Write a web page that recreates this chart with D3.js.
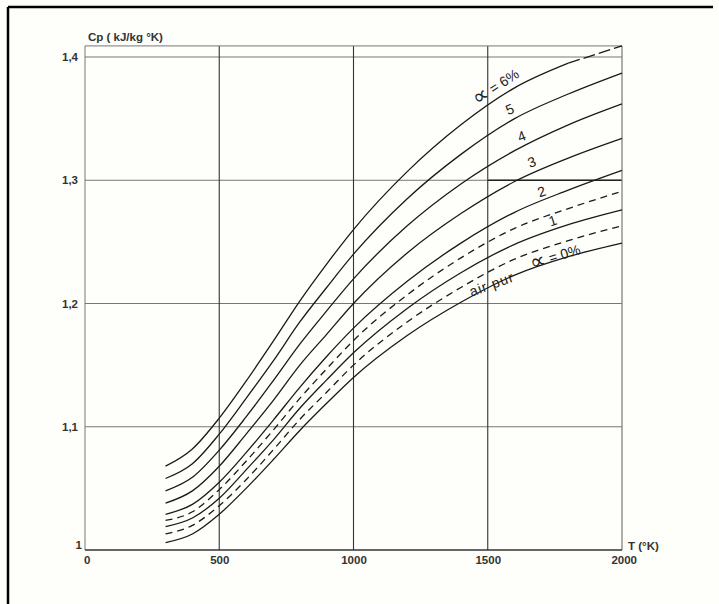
<!DOCTYPE html>
<html>
<head>
<meta charset="utf-8">
<script src="https://cdn.jsdelivr.net/npm/d3@7"></script>
<style>
  html, body { margin: 0; padding: 0; background: #fefefb; }
  svg { display: block; font-family: "Liberation Sans", Arial, sans-serif; }
</style>
</head>
<body>
<svg id="chart" width="719" height="604"></svg>
<script>
// ---- data ----
const temps   = [300, 400, 500, 600, 700, 800, 900, 1000, 1200, 1400, 1600, 1800, 2000];
const alpha0  = [1.006, 1.013, 1.029, 1.050, 1.073, 1.097, 1.119, 1.140, 1.174, 1.201, 1.223, 1.238, 1.249];
const alpha05 = [1.013, 1.020, 1.036, 1.057, 1.081, 1.106, 1.128, 1.150, 1.185, 1.213, 1.236, 1.251, 1.263];
const alpha1  = [1.019, 1.026, 1.042, 1.065, 1.089, 1.115, 1.138, 1.160, 1.196, 1.225, 1.248, 1.264, 1.276];
const alpha15 = [1.024, 1.031, 1.049, 1.072, 1.097, 1.123, 1.147, 1.170, 1.207, 1.237, 1.261, 1.277, 1.291];
const alpha2  = [1.029, 1.037, 1.055, 1.079, 1.105, 1.132, 1.157, 1.180, 1.218, 1.249, 1.274, 1.292, 1.308];
const alpha3  = [1.038, 1.048, 1.068, 1.094, 1.121, 1.150, 1.175, 1.200, 1.241, 1.273, 1.299, 1.318, 1.334];
const alpha4  = [1.048, 1.059, 1.081, 1.108, 1.137, 1.167, 1.194, 1.220, 1.263, 1.297, 1.324, 1.345, 1.362];
const alpha5  = [1.058, 1.070, 1.094, 1.123, 1.153, 1.185, 1.213, 1.240, 1.285, 1.321, 1.350, 1.370, 1.387];
const alpha6  = [1.068, 1.082, 1.107, 1.137, 1.169, 1.202, 1.232, 1.260, 1.307, 1.345, 1.375, 1.395, 1.409];

const seriesNames = ["0", "0.5", "1", "1.5", "2", "3", "4", "5", "6"];
const seriesDashed = [false, true, false, true, false, false, false, false, false];
const seriesValues = [alpha0, alpha05, alpha1, alpha15, alpha2, alpha3, alpha4, alpha5, alpha6];

const xTicks = [0, 500, 1000, 1500, 2000];
const yTicks = [1, 1.1, 1.2, 1.3, 1.4];
const yTitle = "Cp ( kJ/kg °K)";
const xTitle = "T (°K)";

// curve labels: prefix glyph, text, T, Cp
const labelGlyph = ["∝", "", "", "", "", "", "", "∝"];
const labelTexts = [" = 6%", "5", "4", "3", "2", "1", "air pur", " = 0%"];
const labelT     = [1532, 1583, 1627, 1665, 1702, 1743, 1516, 1752];
const labelCp    = [1.3755, 1.357, 1.335, 1.314, 1.290, 1.2666, 1.215, 1.2375];

// ---- drawing ----
const svg = d3.select("#chart");
const x = d3.scaleLinear().domain([0, 2000]).range([85, 622]);
const y = d3.scaleLinear().domain([1, 1.4]).range([550, 57]);
const yTop = 1.409;

// outer frame (top & left)
svg.append("line").attr("x1", 8).attr("x2", 713).attr("y1", 7).attr("y2", 7)
  .attr("stroke", "#000").attr("stroke-width", 2.5);
svg.append("line").attr("x1", 8).attr("x2", 8).attr("y1", 7).attr("y2", 604)
  .attr("stroke", "#000").attr("stroke-width", 2.5);

const g = svg.append("g");

// horizontal grid
g.selectAll("line.hg").data(yTicks.filter(v => v > 1)).enter().append("line")
  .attr("class", "hg")
  .attr("x1", x(0)).attr("x2", x(2000))
  .attr("y1", d => y(d)).attr("y2", d => y(d))
  .attr("stroke", "#777").attr("stroke-width", 1);

// darker part of 1.3 line on the right
g.append("line").attr("x1", x(1500)).attr("x2", x(2000))
  .attr("y1", y(1.3)).attr("y2", y(1.3))
  .attr("stroke", "#222").attr("stroke-width", 1.3);

// vertical grid
g.selectAll("line.vg").data(xTicks.filter(v => v > 0 && v < 2000)).enter().append("line")
  .attr("class", "vg")
  .attr("x1", d => x(d)).attr("x2", d => x(d))
  .attr("y1", y(yTop)).attr("y2", y(1))
  .attr("stroke", "#333").attr("stroke-width", 1.1);

// plot frame
g.append("line").attr("x1", x(0)).attr("x2", x(2000)).attr("y1", y(yTop)).attr("y2", y(yTop))
  .attr("stroke", "#777").attr("stroke-width", 1);
g.append("line").attr("x1", x(0)).attr("x2", x(0)).attr("y1", y(yTop)).attr("y2", y(1))
  .attr("stroke", "#777").attr("stroke-width", 1);
g.append("line").attr("x1", x(2000)).attr("x2", x(2000)).attr("y1", y(yTop)).attr("y2", y(1))
  .attr("stroke", "#777").attr("stroke-width", 1.2);
g.append("line").attr("x1", x(0)).attr("x2", x(2000)).attr("y1", y(1)).attr("y2", y(1))
  .attr("stroke", "#333").attr("stroke-width", 1.3);

// axes (labels only)
const yAxis = d3.axisLeft(y).tickValues(yTicks).tickSize(0).tickPadding(7)
  .tickFormat(d => d === 1 ? "1" : d3.format(".1f")(d).replace(".", ","));
const ya = svg.append("g").attr("transform", `translate(${x(0)},0)`).call(yAxis);
ya.select(".domain").remove();
ya.selectAll("text").attr("font-size", 11.5).attr("font-weight", "bold").attr("fill", "#333")
  .attr("font-family", "Liberation Sans, Arial, sans-serif");
ya.selectAll(".tick").filter(d => d === 1).select("text").attr("dy", "-0.1em").attr("x", -3);

const xAxis = d3.axisBottom(x).tickValues(xTicks).tickSize(0).tickPadding(6)
  .tickFormat(d3.format("d"));
const xa = svg.append("g").attr("transform", `translate(0,${y(1)})`).call(xAxis);
xa.select(".domain").remove();
xa.selectAll("text").attr("font-size", 11.5).attr("font-weight", "bold").attr("fill", "#333")
  .attr("font-family", "Liberation Sans, Arial, sans-serif");
xa.selectAll(".tick").filter(d => d === 0).select("text").attr("dx", "0.15em");
xa.selectAll(".tick").filter(d => d === 2000).select("text").attr("dx", "0.15em");

svg.append("text").attr("x", x(0) + 3).attr("y", y(yTop) - 5)
  .attr("font-size", 11.5).attr("font-weight", "bold").attr("fill", "#333")
  .text(yTitle);
svg.append("text").attr("x", x(2000) + 6).attr("y", y(1) - 0)
  .attr("font-size", 11.5).attr("font-weight", "bold").attr("fill", "#333")
  .text(xTitle);

// curves
const line = d3.line().x(d => x(d[0])).y(d => y(d[1])).curve(d3.curveMonotoneX);
seriesValues.forEach((vals, i) => {
  const pts = temps.map((t, k) => [t, vals[k]]);
  const isTop = i === seriesValues.length - 1;
  if (isTop) {
    g.append("path").attr("d", line(pts.filter(p => p[0] <= 1800)))
      .attr("fill", "none").attr("stroke", "#1a1a1a").attr("stroke-width", 1.3);
    g.append("path").attr("d", line(pts.filter(p => p[0] >= 1800)))
      .attr("fill", "none").attr("stroke", "#1a1a1a").attr("stroke-width", 1.3)
      .attr("stroke-dasharray", "12,4");
  } else {
    g.append("path").attr("d", line(pts))
      .attr("fill", "none").attr("stroke", "#1a1a1a").attr("stroke-width", 1.3)
      .attr("stroke-dasharray", seriesDashed[i] ? "7,5" : null);
  }
});

// curve labels
const rotations = [-33, -22, -21, -20, -19, -18, -20, -17];
labelTexts.forEach((t, i) => {
  const txt = svg.append("text")
    .attr("transform", `translate(${x(labelT[i])},${y(labelCp[i])}) rotate(${rotations[i]})`)
    .attr("text-anchor", "middle").attr("dominant-baseline", "middle")
    .attr("font-size", 14).attr("fill", "#222");
  if (labelGlyph[i]) {
    txt.append("tspan").attr("font-size", 22).attr("font-family", "DejaVu Sans, sans-serif")
      .text(labelGlyph[i]);
  }
  txt.append("tspan").attr("letter-spacing", i === 6 ? 1 : 0).text(t);
});
</script>
</body>
</html>
